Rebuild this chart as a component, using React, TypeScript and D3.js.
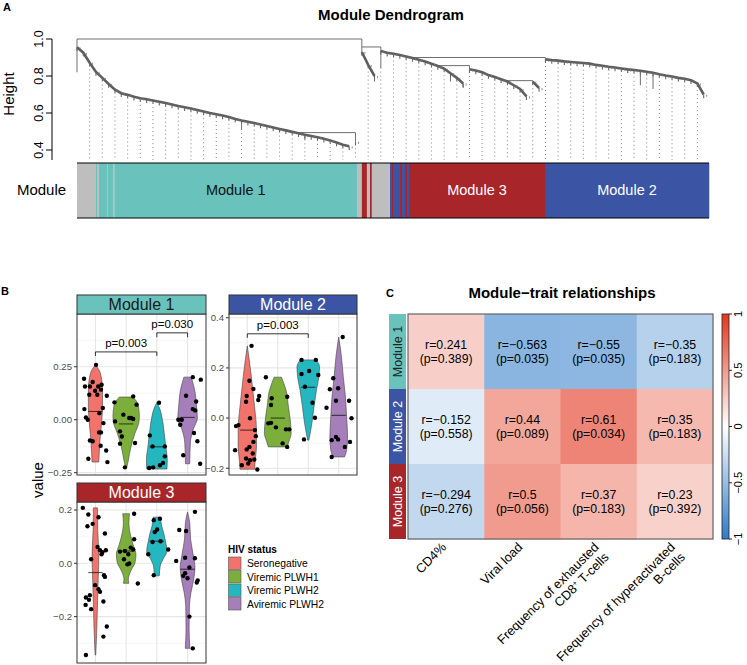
import * as d3 from 'd3';

// ---------------- A: module dendrogram ----------------
const heightTicks = [0.4, 0.6, 0.8, 1.0];

// join heights along each chained branch, one value per leaf
const branchModule1 = [0.955, 0.926, 0.872, 0.822, 0.79, 0.757, 0.726, 0.707, 0.698, 0.688, 0.68, 0.674, 0.668, 0.661, 0.654,
  0.646, 0.638, 0.631, 0.624, 0.616, 0.608, 0.6, 0.593, 0.586, 0.578, 0.568, 0.56, 0.553, 0.546, 0.538, 0.53, 0.522, 0.514,
  0.506, 0.498, 0.49, 0.482, 0.476, 0.469, 0.461, 0.452, 0.44, 0.428, 0.42];
const branchModule1Tail = [0.445];
const branchGrey = [0.93, 0.86, 0.8];
const branchModule3a = [0.935, 0.926, 0.92, 0.913, 0.905, 0.897, 0.888, 0.878, 0.866, 0.854, 0.84, 0.815, 0.79, 0.76];
const branchModule3b = [0.836, 0.83, 0.82, 0.805, 0.795, 0.782, 0.77, 0.75, 0.73, 0.69];
const branchModule3c = [0.77, 0.735];
const branchModule2 = [0.89, 0.886, 0.883, 0.879, 0.876, 0.873, 0.87, 0.867, 0.86, 0.855, 0.85, 0.846, 0.841, 0.836, 0.832,
  0.828, 0.823, 0.818, 0.81, 0.803, 0.797, 0.79, 0.785, 0.777, 0.76, 0.7];

const branches = [
  { start: 0, heights: branchModule1 },
  { start: 44, heights: branchModule1Tail },
  { start: 45, heights: branchGrey },
  { start: 48, heights: branchModule3a },
  { start: 62, heights: branchModule3b },
  { start: 72, heights: branchModule3c },
  { start: 74, heights: branchModule2 },
];

// [leaf a, height a, leaf b, height b, join height]
const joins = [
  [0, 0.955, 45, 0.957, 1.0],
  [45, 0.93, 48, 0.935, 0.957],
  [35, 0.49, 44, 0.445, 0.494],
  [52, 0.905, 74, 0.89, 0.9],
  [57, 0.854, 62, 0.836, 0.856],
  [68, 0.77, 72, 0.77, 0.775],
];

// leaves hanging further down: [leaf, top, bottom]
const longLeaves = [
  [0, 0.955, 0.82],
  [26, 0.56, 0.508],
  [36, 0.482, 0.452],
  [48, 0.935, 0.84],
  [47, 0.8, 0.77],
  [59, 0.815, 0.77],
  [61, 0.76, 0.735],
  [89, 0.832, 0.75],
  [91, 0.818, 0.73],
];

// module colour bar: [module, from leaf, to leaf]
const moduleBar: [string, number, number][] = [
  ['grey', 0, 3.0], ['M1', 3.0, 3.16], ['grey', 3.16, 3.48], ['M1', 3.48, 4.74], ['grey', 4.74, 4.9],
  ['M1', 4.9, 5.69], ['grey', 5.69, 5.92], ['M1', 5.92, 44.23], ['grey', 44.23, 45.0], ['M3', 45.0, 45.79],
  ['grey', 45.79, 46.29], ['M3', 46.29, 46.56], ['grey', 46.56, 49.45], ['M2', 49.45, 49.76], ['M3', 49.76, 49.92],
  ['M2', 49.92, 51.03], ['M3', 51.03, 51.34], ['M2', 51.34, 51.82], ['M3', 51.82, 52.13], ['M2', 52.13, 52.45],
  ['M3', 52.45, 73.93], ['M2', 73.93, 99.84],
];
const moduleNames: Record<string, string> = { M1: 'Module 1', M2: 'Module 2', M3: 'Module 3' };
const moduleFill: Record<string, string> = { grey: '#BEBEBE', M1: '#6AC2BD', M2: '#3B55A4', M3: '#A8262A' };
const moduleText: Record<string, string> = { M1: '#111', M2: '#fff', M3: '#fff' };

// ---------------- B: eigengene violins ----------------
const hivGroups = ['Seronegative', 'Viremic PLWH1', 'Viremic PLWH2', 'Aviremic PLWH2'];
const hivColors = ['#F2736B', '#7BAE3B', '#24B7C0', '#A57EBA'];

// violin outlines: [value, half width in category steps]
const violinsM1 = [
  [[0.259, 0], [0.22, 0.16], [0.142, 0.23], [0.063, 0.23], [-0.016, 0.2], [-0.094, 0.15], [-0.2, 0.11]],
  [[0.107, 0.22], [0.071, 0.39], [0.016, 0.43], [-0.016, 0.41], [-0.063, 0.29], [-0.126, 0.16], [-0.2, 0.06], [-0.225, 0.02]],
  [[0.082, 0], [0.05, 0.1], [0.016, 0.16], [-0.063, 0.24], [-0.126, 0.29], [-0.189, 0.34], [-0.233, 0.33]],
  [[0.201, 0.12], [0.142, 0.23], [0.063, 0.29], [0.008, 0.32], [-0.047, 0.18], [-0.11, 0.09], [-0.208, 0.07]],
];
const violinsM2 = [
  [[0.288, 0], [0.179, 0.12], [0.112, 0.18], [0.045, 0.24], [-0.048, 0.3], [-0.115, 0.3], [-0.168, 0.26], [-0.204, 0.24]],
  [[0.163, 0.12], [0.112, 0.27], [0.045, 0.35], [-0.008, 0.41], [-0.061, 0.44], [-0.095, 0.36], [-0.115, 0.31]],
  [[0.232, 0.26], [0.205, 0.37], [0.165, 0.35], [0.112, 0.27], [0.045, 0.19], [-0.021, 0.12], [-0.088, 0.02]],
  [[0.323, 0], [0.245, 0.09], [0.165, 0.15], [0.085, 0.22], [0.005, 0.26], [-0.075, 0.29], [-0.128, 0.26], [-0.155, 0.19]],
];
const violinsM3 = [
  [[0.208, 0.065], [0.127, 0.075], [0.027, 0.11], [-0.06, 0.09], [-0.16, 0.065], [-0.247, 0.045], [-0.344, 0.01]],
  [[0.186, 0.11], [0.152, 0.09], [0.102, 0.15], [0.065, 0.24], [0.034, 0.32], [0.003, 0.29], [-0.029, 0.15], [-0.06, 0.07], [-0.075, 0.09]],
  [[0.173, 0.12], [0.139, 0.16], [0.115, 0.22], [0.083, 0.28], [0.046, 0.33], [0.015, 0.2], [-0.01, 0.11], [-0.047, 0.08]],
  [[0.193, 0], [0.152, 0.07], [0.09, 0.1], [0.027, 0.19], [-0.016, 0.24], [-0.06, 0.2], [-0.11, 0.11], [-0.16, 0.06], [-0.247, 0.05], [-0.319, 0.075]],
];
const mediansM1 = [0.039, -0.02, -0.128, 0.011];
const mediansM2 = [-0.048, 0.0, 0.123, 0.011];
const mediansM3 = [-0.035, 0.046, 0.083, -0.022];

// samples: [jitter in category steps, eigengene value]
const pointsM1 = [
  [[0.02, 0.259], [-0.37, 0.193], [-0.09, 0.178], [-0.34, 0.157], [-0.18, 0.157], [0.09, 0.157], [0.2, 0.165], [-0.01, 0.137],
    [0.18, 0.142], [-0.2, 0.118], [0.06, 0.118], [0.37, 0.113], [-0.36, 0.05], [0.24, 0.055], [0.13, 0.031], [-0.31, 0.011],
    [-0.25, 0.0], [0.26, -0.016], [0.12, -0.06], [0.18, -0.06], [-0.18, -0.098], [-0.09, -0.102], [0.17, -0.123], [0.35, -0.145],
    [-0.23, -0.184], [0.39, -0.2]],
  [[-0.38, 0.082], [0.23, 0.11], [0.34, 0.071], [-0.09, 0.024], [0.1, 0.008], [0.16, 0.008], [0.23, 0.003], [-0.36, -0.008],
    [-0.2, -0.055], [-0.14, -0.079], [-0.2, -0.113], [0.29, -0.11], [-0.04, -0.225]],
  [[0.07, 0.08], [-0.23, -0.074], [-0.14, -0.126], [0.26, -0.126], [0.26, -0.173], [0.2, -0.204], [0.1, -0.215], [-0.12, -0.225], [-0.25, -0.228]],
  [[0.17, 0.201], [0.43, 0.189], [-0.05, 0.113], [0.28, 0.086], [0.17, 0.05], [0.25, 0.044], [-0.3, 0.0], [-0.19, 0.0],
    [-0.24, -0.024], [0.21, -0.063], [0.32, -0.102], [-0.14, -0.168], [0.41, -0.208]],
];
const pointsM2 = [
  [[0.14, 0.288], [0.07, 0.149], [0.2, 0.116], [-0.02, 0.088], [0.39, 0.088], [0.36, 0.072], [-0.04, 0.065], [0.09, -0.001],
    [-0.29, -0.028], [-0.37, -0.032], [0.25, -0.048], [0.28, -0.072], [0.2, -0.095], [-0.4, -0.128], [0.07, -0.115], [-0.02, -0.125],
    [0.18, -0.141], [-0.04, -0.161], [0.09, -0.168], [0.23, -0.165], [-0.18, -0.188], [0.03, -0.181], [0.33, -0.205]],
  [[-0.39, 0.163], [-0.2, 0.079], [0.31, 0.085], [-0.22, 0.052], [-0.22, -0.019], [-0.31, -0.021], [-0.06, -0.037], [0.27, -0.045],
    [0.38, -0.045], [0.16, -0.101], [0.31, -0.115]],
  [[-0.22, 0.232], [0.25, 0.232], [0.03, 0.188], [-0.22, 0.176], [0.33, 0.172], [-0.11, 0.125], [0.14, 0.061], [0.22, 0.001], [-0.14, -0.085]],
  [[0.13, 0.323], [-0.18, 0.159], [-0.02, 0.119], [-0.29, 0.115], [-0.09, 0.069], [0.34, 0.069], [-0.4, 0.041], [0.42, -0.001],
    [-0.09, -0.075], [-0.02, -0.085], [-0.23, -0.088], [0.37, -0.095], [0.2, -0.115], [-0.23, -0.155]],
];
const pointsM3 = [
  [[-0.41, 0.208], [-0.23, 0.183], [0.1, 0.173], [-0.09, 0.148], [-0.26, 0.139], [0.31, 0.112], [0.07, 0.061], [0.15, 0.049],
    [0.23, 0.042], [0.2, 0.034], [0.34, 0.049], [-0.14, 0.015], [0.28, -0.045], [0.31, -0.051], [-0.01, -0.082], [0.1, -0.097],
    [0.15, -0.107], [-0.18, -0.12], [-0.31, -0.128], [-0.21, -0.137], [0.26, -0.143], [-0.32, -0.156], [-0.14, -0.172],
    [0.37, -0.237], [0.26, -0.275], [-0.31, -0.344]],
  [[0.26, 0.186], [0.26, 0.09], [-0.04, 0.046], [-0.2, 0.044], [0.15, 0.059], [0.23, 0.052], [0.07, 0.034], [-0.07, 0.015],
    [0.1, -0.001], [0.04, -0.004], [0.38, -0.076]],
  [[-0.1, 0.162], [0.1, 0.167], [-0.07, 0.117], [0.01, 0.127], [-0.14, 0.08], [0.12, 0.083], [0.37, 0.052], [-0.28, 0.034], [-0.1, -0.045]],
  [[0.24, 0.193], [-0.27, 0.125], [-0.05, 0.121], [-0.37, 0.009], [-0.08, 0.021], [0.24, 0.019], [0.06, -0.016], [-0.08, -0.037],
    [-0.14, -0.047], [0, -0.056], [0.33, -0.064], [0.3, -0.072], [0.06, -0.2], [0.17, -0.319]],
];

// significance brackets: [from group, to group, bracket value, tip value, label]
const bracketsM1: [number, number, number, number, string][] = [[0, 2, 0.32, 0.301, 'p=0.003'], [2, 3, 0.41, 0.389, 'p=0.030']];
const bracketsM2: [number, number, number, number, string][] = [[0, 2, 0.336, 0.32, 'p=0.003']];
const bracketsM3: [number, number, number, number, string][] = [];

const facets = [
  { key: 'M1', violins: violinsM1, medians: mediansM1, points: pointsM1, brackets: bracketsM1,
    domain: [-0.261, 0.499], ticks: [-0.25, 0, 0.25], fmt: '.2f' },
  { key: 'M2', violins: violinsM2, medians: mediansM2, points: pointsM2, brackets: bracketsM2,
    domain: [-0.227, 0.415], ticks: [-0.2, 0, 0.2, 0.4], fmt: '.1f' },
  { key: 'M3', violins: violinsM3, medians: mediansM3, points: pointsM3, brackets: bracketsM3,
    domain: [-0.374, 0.23], ticks: [-0.2, 0, 0.2], fmt: '.1f' },
];
// facet frames (plot area) in pixels
const facetFrames = [
  { left: 77, right: 206, top: 314, bottom: 475 },
  { left: 229, right: 357, top: 314, bottom: 475 },
  { left: 77, right: 206, top: 502, bottom: 663 },
];

// ---------------- C: module-trait heatmap ----------------
const traitModules = ['M1', 'M2', 'M3'];
const traitLabels = [['CD4%'], ['Viral load'], ['Frequency of exhausted', 'CD8^+ T-cells'], ['Frequency of hyperactivated', 'B-cells']];
const corR = [
  [0.241, -0.563, -0.55, -0.35],
  [-0.152, 0.44, 0.61, 0.35],
  [-0.294, 0.5, 0.37, 0.23],
];
const corP = [
  [0.389, 0.035, 0.035, 0.183],
  [0.558, 0.089, 0.034, 0.183],
  [0.276, 0.056, 0.183, 0.392],
];
const legendTicks = [-1, -0.5, 0, 0.5, 1];

const FONT = "'Liberation Sans', Arial, Helvetica, sans-serif";
const minus = (s: string) => s.replace('-', '\u2212');

function PanelA() {
  const leafX = d3.scaleLinear().domain([0, 100]).range([77, 710]);
  const hY = d3.scaleLinear().domain([0.4, 1.0]).range([150, 39]);
  const hang = 0.02;
  const barTop = 163, barBottom = 218;

  const bottoms = new Map<number, number>();
  branches.forEach((b) => b.heights.forEach((h, i) => bottoms.set(b.start + i, h - hang)));
  longLeaves.forEach(([l, , lo]) => bottoms.set(l, Math.min(bottoms.get(l) ?? 1, lo)));
  const guides = d3.range(2, 100, 2).filter((l) => bottoms.has(l));

  const labelSegs = Object.keys(moduleNames).map((m) => {
    const seg = d3.greatest(moduleBar.filter((s) => s[0] === m), (s) => s[2] - s[1])!;
    return { m, x: leafX((seg[1] + seg[2]) / 2) };
  });

  return (
    <g>
      <text x={3} y={11} fontSize={11} fontWeight="bold">A</text>
      <text x={391} y={20} fontSize={15} fontWeight="bold" textAnchor="middle">Module Dendrogram</text>
      {/* y axis */}
      <line x1={52} x2={52} y1={hY(1.0)} y2={160} stroke="#000" />
      {heightTicks.map((t) => (
        <g key={t}>
          <line x1={46} x2={52} y1={hY(t)} y2={hY(t)} stroke="#000" />
          <text transform={`translate(42.5,${hY(t)}) rotate(-90)`} textAnchor="middle" fontSize={12.5}>{d3.format('.1f')(t)}</text>
        </g>
      ))}
      <text transform={`translate(14,94) rotate(-90)`} textAnchor="middle" fontSize={15}>Height</text>
      {/* guides */}
      {guides.map((l) => (
        <line key={l} x1={leafX(l)} x2={leafX(l)} y1={hY(bottoms.get(l)!) + 3} y2={barTop - 3}
          stroke="#777" strokeWidth={0.9} strokeDasharray="1,3" />
      ))}
      {/* joins */}
      {joins.map(([a, ha, b, hb, top], i) => (
        <path key={i} d={`M${leafX(a)},${hY(ha)}V${hY(top)}H${leafX(b)}V${hY(hb)}`} fill="none" stroke="#6f6f6f" strokeWidth={1} />
      ))}
      {longLeaves.map(([l, hi, lo], i) => (
        <line key={i} x1={leafX(l)} x2={leafX(l)} y1={hY(hi)} y2={hY(lo)} stroke="#6f6f6f" strokeWidth={1} />
      ))}
      {/* chained branches */}
      {branches.map((b, bi) => {
        const line = d3.line<number>().x((_, i) => leafX(b.start + i)).y((h) => hY(h));
        return (
          <g key={bi}>
            <path d={line(b.heights) ?? ''} fill="none" stroke="#5e5e5e" strokeWidth={2.6} />
            {b.heights.map((h, i) => (
              <g key={i}>
                <line x1={leafX(b.start + i)} x2={leafX(b.start + i)} y1={hY(h)} y2={hY(h - hang)} stroke="#666" strokeWidth={1.1} />
                <line x1={leafX(b.start + i) + 3} x2={leafX(b.start + i) + 3} y1={hY(h)} y2={hY(h - hang * 0.6)} stroke="#777" strokeWidth={0.8} />
              </g>
            ))}
          </g>
        );
      })}
      {/* module colour bar */}
      {moduleBar.map(([m, a, b], i) => (
        <rect key={i} x={leafX(a)} y={barTop} width={leafX(b) - leafX(a) + 0.3} height={barBottom - barTop} fill={moduleFill[m]} />
      ))}
      <line x1={leafX(0)} x2={leafX(99.84)} y1={barTop} y2={barTop} stroke="#000" strokeWidth={1.2} />
      <line x1={leafX(0)} x2={leafX(99.84)} y1={barBottom} y2={barBottom} stroke="#000" strokeWidth={1.2} />
      {labelSegs.map(({ m, x }) => (
        <text key={m} x={x} y={195} fontSize={14.5} textAnchor="middle" fill={moduleText[m]}>{moduleNames[m]}</text>
      ))}
      <text x={41.5} y={194.5} fontSize={15} textAnchor="middle">Module</text>
    </g>
  );
}

function Facet({ spec, frame }: { spec: (typeof facets)[number]; frame: (typeof facetFrames)[number] }) {
  const x = d3.scalePoint<string>().domain(hivGroups).range([frame.left, frame.right]).padding(0.6);
  const step = x.step();
  const y = d3.scaleLinear().domain(spec.domain).range([frame.bottom, frame.top]);
  const tStep = spec.ticks[1] - spec.ticks[0];
  const minors = d3.range(spec.ticks[0] - tStep / 2, spec.domain[1], tStep).filter((v) => v > spec.domain[0]);
  const stripH = 19;
  return (
    <g>
      <rect x={frame.left} y={frame.top} width={frame.right - frame.left} height={frame.bottom - frame.top} fill="#fff" />
      {minors.map((v) => (
        <line key={v} x1={frame.left} x2={frame.right} y1={y(v)} y2={y(v)} stroke="#F2F2F2" strokeWidth={0.7} />
      ))}
      {spec.ticks.map((v) => (
        <line key={v} x1={frame.left} x2={frame.right} y1={y(v)} y2={y(v)} stroke="#E6E6E6" strokeWidth={1.1} />
      ))}
      {hivGroups.map((g) => (
        <line key={g} x1={x(g)} x2={x(g)} y1={frame.top} y2={frame.bottom} stroke="#E6E6E6" strokeWidth={1.1} />
      ))}
      {spec.violins.map((prof, gi) => {
        const cx = x(hivGroups[gi])!;
        const area = d3.area<number[]>().y((d) => y(d[0])).x0((d) => cx - d[1] * step).x1((d) => cx + d[1] * step)
          .curve(d3.curveMonotoneY);
        return <path key={gi} d={area(prof) ?? ''} fill={hivColors[gi]} stroke="#444" strokeWidth={0.6} />;
      })}
      {spec.medians.map((m, gi) => {
        const cx = x(hivGroups[gi])!;
        return <line key={gi} x1={cx - 0.235 * step} x2={cx + 0.235 * step} y1={y(m)} y2={y(m)} stroke="#000" strokeWidth={0.7} />;
      })}
      {spec.points.map((pts, gi) =>
        pts.map(([dx, v], i) => <circle key={`${gi}-${i}`} cx={x(hivGroups[gi])! + dx * step} cy={y(v)} r={2.2} fill="#000" />))}
      {spec.brackets.map(([a, b, lvl, tip, lab], i) => {
        const xa = x(hivGroups[a])!, xb = x(hivGroups[b])!;
        return (
          <g key={i}>
            <path d={`M${xa},${y(tip)}V${y(lvl)}H${xb}V${y(tip)}`} fill="none" stroke="#000" strokeWidth={0.8} />
            <text x={(xa + xb) / 2} y={y(lvl) - 5} fontSize={11.5} textAnchor="middle">{lab}</text>
          </g>
        );
      })}
      <rect x={frame.left} y={frame.top} width={frame.right - frame.left} height={frame.bottom - frame.top} fill="none" stroke="#333" strokeWidth={1} />
      {spec.ticks.map((v) => (
        <g key={v}>
          <line x1={frame.left - 3} x2={frame.left} y1={y(v)} y2={y(v)} stroke="#333" />
          <text x={frame.left - 5} y={y(v) + 3.4} fontSize={9.6} textAnchor="end" fill="#4D4D4D">{d3.format(spec.fmt)(v)}</text>
        </g>
      ))}
      <rect x={frame.left} y={frame.top - stripH} width={frame.right - frame.left} height={stripH} fill={moduleFill[spec.key]} stroke="#333" strokeWidth={1} />
      <text x={(frame.left + frame.right) / 2} y={frame.top - 4} fontSize={16} textAnchor="middle" fill={moduleText[spec.key] === '#111' ? '#1a1a1a' : '#fff'}>
        {moduleNames[spec.key]}
      </text>
    </g>
  );
}

function PanelB() {
  return (
    <g>
      <text x={1} y={295} fontSize={11} fontWeight="bold">B</text>
      {facets.map((f, i) => <Facet key={f.key} spec={f} frame={facetFrames[i]} />)}
      <text transform="translate(42.5,480) rotate(-90)" textAnchor="middle" fontSize={15}>value</text>
      <text x={228} y={552.5} fontSize={10} fontWeight="bold">HIV status</text>
      {hivGroups.map((g, i) => (
        <g key={g}>
          <rect x={228.5} y={557 + i * 13.5} width={12.5} height={12.5} fill={hivColors[i]} stroke="#555" strokeWidth={0.6} />
          <text x={247} y={567.3 + i * 13.5} fontSize={10.3}>{g}</text>
        </g>
      ))}
    </g>
  );
}

function PanelC() {
  const xC = d3.scaleBand<number>().domain(d3.range(traitLabels.length)).range([408, 713]);
  const yC = d3.scaleBand<string>().domain(traitModules).range([314, 539]);
  const color = d3.scaleLinear<string>().domain([-1, 0, 1]).range(['#2F7BC8', '#FFFFFF', '#E3361C']).interpolate(d3.interpolateRgb);
  const legY = d3.scaleLinear().domain([-1, 1]).range([539, 314]);
  const stops = d3.range(-1, 1.0001, 0.1);
  return (
    <g>
      <text x={386} y={297} fontSize={11} fontWeight="bold">C</text>
      <text x={562} y={297.5} fontSize={15} fontWeight="bold" textAnchor="middle">Module{'\u2212'}trait relationships</text>
      {traitModules.map((m, ri) => (
        <g key={m}>
          <rect x={389} y={yC(m)!} width={17} height={yC.bandwidth()} fill={moduleFill[m]} />
          <text transform={`translate(397.5,${yC(m)! + yC.bandwidth() / 2}) rotate(-90)`} textAnchor="middle" dy="0.35em"
            fontSize={12.5} fill={m === 'M1' ? '#222' : '#fff'}>{moduleNames[m]}</text>
          {corR[ri].map((r, ci) => (
            <g key={ci}>
              <rect x={xC(ci)!} y={yC(m)!} width={xC.bandwidth() + 0.5} height={yC.bandwidth() + 0.5} fill={color(r)} />
              <text x={xC(ci)! + xC.bandwidth() / 2} y={yC(m)! + yC.bandwidth() / 2 - 7} dy="0.35em" textAnchor="middle" fontSize={12.3}>
                {minus(`r=${r}`)}
              </text>
              <text x={xC(ci)! + xC.bandwidth() / 2} y={yC(m)! + yC.bandwidth() / 2 + 7.5} dy="0.35em" textAnchor="middle" fontSize={12.3}>
                {`(p=${corP[ri][ci]})`}
              </text>
            </g>
          ))}
        </g>
      ))}
      <rect x={408} y={314} width={305} height={225} fill="none" stroke="#666" strokeWidth={1.2} />
      {/* colour legend */}
      <defs>
        <linearGradient id="corGrad" x1="0" x2="0" y1="1" y2="0">
          {stops.map((s) => <stop key={s} offset={(s + 1) / 2} stopColor={color(s)} />)}
        </linearGradient>
      </defs>
      <rect x={722} y={314} width={7} height={225} fill="url(#corGrad)" stroke="#222" strokeWidth={0.8} />
      {legendTicks.map((t) => (
        <g key={t}>
          <line x1={729} x2={732} y1={legY(t)} y2={legY(t)} stroke="#222" />
          <text transform={`translate(741.5,${legY(t)}) rotate(-90)`} textAnchor="middle" fontSize={11}>{minus(String(t))}</text>
        </g>
      ))}
      {/* trait labels */}
      {traitLabels.map((lines, ci) => (
        <text key={ci} transform={`translate(${xC(ci)! + xC.bandwidth() / 2 + 1},548) rotate(-45)`} textAnchor="end" fontSize={12.8}>
          {lines.map((ln, li) => {
            const parts = ln.split('^+');
            return (
              <tspan key={li} x={0} dy={li === 0 ? 0 : 14}>
                {parts[0]}
                {parts.length > 1 && <tspan baselineShift="super" fontSize={8}>+</tspan>}
                {parts.length > 1 && parts[1]}
              </tspan>
            );
          })}
        </text>
      ))}
    </g>
  );
}

export default function App() {
  return (
    <svg width={747} height={665} style={{ position: 'absolute', left: 0, top: 0, background: '#fff' }} fontFamily={FONT}>
      <PanelA />
      <PanelB />
      <PanelC />
    </svg>
  );
}
